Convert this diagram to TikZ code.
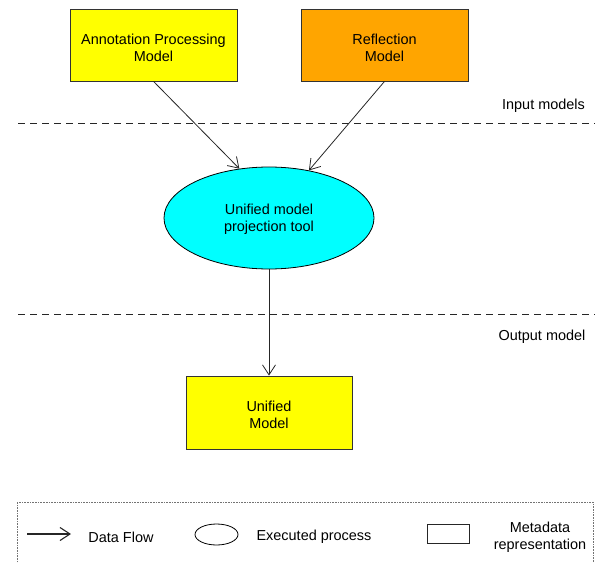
\documentclass[tikz,border=0pt]{standalone}
\usepackage{fontspec}
\setmainfont{Liberation Sans}
\usetikzlibrary{shapes.geometric,arrows.meta}
\definecolor{apyellow}{HTML}{FFFF00}
\definecolor{reforange}{HTML}{FFA500}
\definecolor{toolcyan}{HTML}{00FFFF}
\newcommand{\topgap}[1]{\rule{0pt}{#1}}
\begin{document}
\begin{tikzpicture}[x=1bp,y=-1bp,line width=0.8bp,
    font=\fontsize{14.5}{17}\selectfont,
    model/.style={draw=black!80,rectangle,align=center,
          minimum width=167bp,minimum height=72bp},
    process/.style={draw=black,ellipse,align=center,inner sep=0pt,
          fill=toolcyan,minimum width=210bp,minimum height=102bp},
    flow/.style={-{Straight Barb[length=10bp,width=13bp]},black!85},
    divider/.style={black!85,dash pattern=on 7bp off 5bp}]
    \useasboundingbox (0,0) rectangle (595,563);
    \node[model,fill=apyellow] (apm) at (153.5,45)
          {\topgap{16.5bp}Annotation Processing\\Model};
    \node[model,fill=reforange] (refl) at (384.5,45)
          {\topgap{16.5bp}Reflection\\Model};
    \node[process] (tool) at (269,218)
          {\topgap{13.5bp}Unified model\\projection tool};
    \node[model,fill=apyellow,minimum width=166bp,minimum height=73bp]
          (unified) at (269,412.5) {\topgap{15.5bp}Unified\\Model};
    \draw[flow] (apm.south) -- (tool.121);
    \draw[flow] (refl.south) -- (tool.50);
    \draw[flow] (tool.south) -- (unified.north);
    \coordinate (ina) at (18,123);
    \coordinate (inb) at (595,123);
    \draw[divider] (ina) -- (inb);
    \node (inlbl) at (543.5,106) {Input models};
    \coordinate (outa) at (18,314);
    \coordinate (outb) at (595,314);
    \draw[divider] (outa) -- (outb);
    \node (outlbl) at (542,337) {Output model};
    \node[draw=black!55,line width=0.6bp,densely dotted,minimum width=576bp,
          minimum height=68bp,anchor=north west] (legend) at (17,502) {};
    \coordinate (flowa) at (27,534);
    \coordinate (flowb) at (71,534);
    \draw[flow,line width=1.1bp] (flowa) -- (flowb);
    \node (flowlbl) at (121,537) {Data Flow};
    \node[draw=black,ellipse,minimum width=43bp,minimum height=21bp,
          inner sep=0pt] (procsym) at (216.5,534.5) {};
    \node (proclbl) at (314,537) {Executed process};
    \node[draw=black!85,minimum width=42bp,minimum height=19bp,
          inner sep=0pt] (metasym) at (448,533.5) {};
    \node[align=center] (metalbl) at (540,537.5) {Metadata\\representation};
\end{tikzpicture}
\end{document}
